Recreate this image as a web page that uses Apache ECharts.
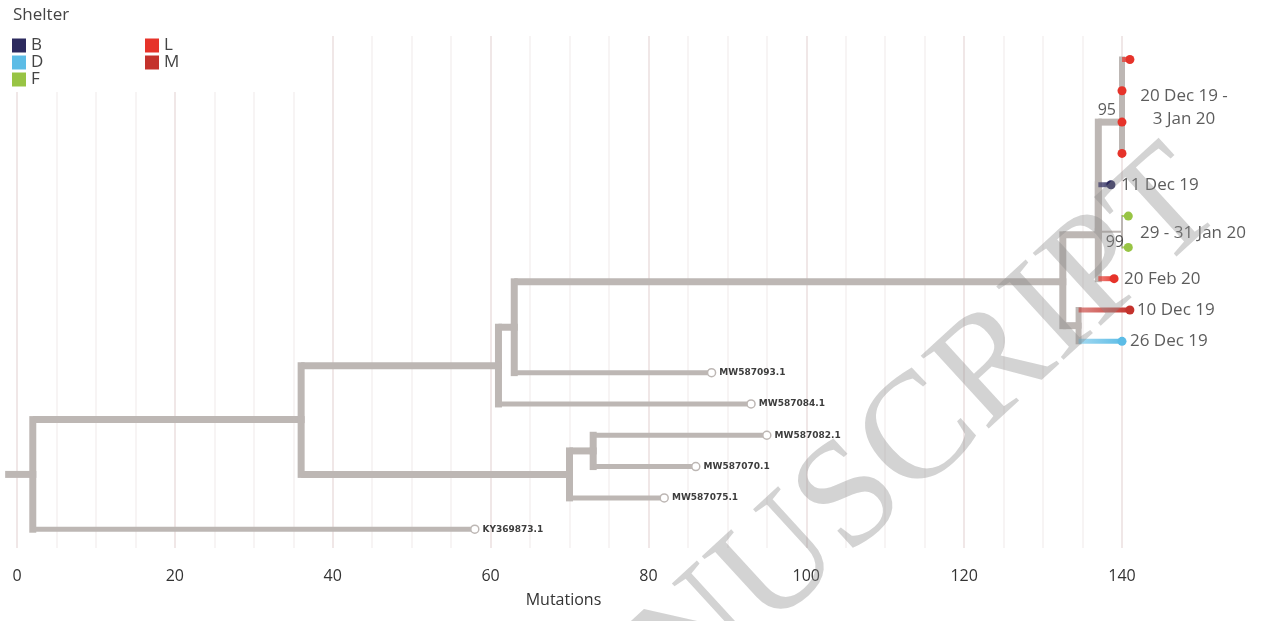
<!DOCTYPE html>
<html>
<head>
<meta charset="utf-8">
<script src="https://cdn.jsdelivr.net/npm/echarts@6/dist/echarts.min.js"></script>
<style>
  html, body { margin: 0; padding: 0; background: #fff; }
  #chart { width: 1268px; height: 621px; }
</style>
</head>
<body>
<div id="chart"></div>
<script>
// internal nodes: [id, parent, mutations, row]
const innerNodes = [
  ['root', null, -1.5, 13.25],
  ['A', 'root', 2, 13.25],
  ['B', 'A', 36, 11.5],
  ['C', 'B', 61, 9.78],
  ['D', 'C', 63, 8.55],
  ['E', 'B', 70, 13.25],
  ['F', 'E', 73, 12.5],
  ['G', 'D', 132.5, 7.1],
  ['H', 'G', 137, 5.6],
  ['I', 'G', 134.5, 8.5],
  ['J', 'H', 140, 2],
  ['K', 'H', 140, 5.5]
];
// reference sequences: [id, parent, mutations, row]
const referenceTips = [
  ['MW587093.1', 'D', 88, 10],
  ['MW587084.1', 'C', 93, 11],
  ['MW587082.1', 'F', 95, 12],
  ['MW587070.1', 'F', 86, 13],
  ['MW587075.1', 'E', 82, 14],
  ['KY369873.1', 'A', 58, 15]
];
// shelter samples: [id, parent, mutations, row, shelter]
const shelterTips = [
  ['L0', 'J', 141, 0, 'L'],
  ['L1', 'J', 140, 1, 'L'],
  ['L2', 'J', 140, 2, 'L'],
  ['L3', 'J', 140, 3, 'L'],
  ['B1', 'H', 138.6, 4, 'B'],
  ['F1', 'K', 140.8, 5, 'F'],
  ['F2', 'K', 140.8, 6, 'F'],
  ['L4', 'H', 139, 7, 'L'],
  ['M1', 'I', 141, 8, 'M'],
  ['D1', 'I', 140, 9, 'D']
];
const shelters = ['B', 'D', 'F', 'L', 'M'];
const dateLabels = [
  ['J', '20 Dec 19 -\n3 Jan 20'],
  ['B1', '11 Dec 19'],
  ['K', '29 - 31 Jan 20'],
  ['L4', '20 Feb 20'],
  ['M1', '10 Dec 19'],
  ['D1', '26 Dec 19']
];
const supportLabels = [['J', '95'], ['K', '99']];
const xTicks = [0, 20, 40, 60, 80, 100, 120, 140];

const shelterColors = { B: '#2c2a5e', D: '#5cbce6', F: '#98c444', L: '#e6332a', M: '#c4322c' };
const gray = '#bdb7b4';
const font = '"Open Sans", sans-serif';

// lookup of every node
const nodes = {};
innerNodes.forEach(n => { nodes[n[0]] = { x: n[2], row: n[3], parent: n[1], inner: true }; });
referenceTips.forEach(n => { nodes[n[0]] = { x: n[2], row: n[3], parent: n[1] }; });
shelterTips.forEach(n => { nodes[n[0]] = { x: n[2], row: n[3], parent: n[1], shelter: n[4] }; });

// edges (elbow from parent to child)
const edges = [];
Object.keys(nodes).forEach(id => {
  const n = nodes[id];
  if (!n.parent) return;
  const p = nodes[n.parent];
  let vw = 7, hw = n.inner ? 7 : 5;
  if (n.parent === 'K') { vw = 2; hw = 2; }
  if (id === 'K') hw = 2;
  if (n.parent === 'J' || n.parent === 'I') vw = 6;
  edges.push({ value: [p.x, p.row, n.x, n.row], vw: vw, hw: hw, shelter: n.shelter });
});

function fade(hex, a) {
  const r = parseInt(hex.slice(1, 3), 16), g = parseInt(hex.slice(3, 5), 16), b = parseInt(hex.slice(5, 7), 16);
  return 'rgba(' + r + ',' + g + ',' + b + ',' + a + ')';
}

const labelPlace = {
  J: { position: [62, -14], align: 'center' },
  B1: { position: [10, 0], align: 'left' },
  K: { position: [18, 1], align: 'left' },
  L4: { position: [10, 0], align: 'left' },
  M1: { position: [7, 0], align: 'left' },
  D1: { position: [8, 0], align: 'left' }
};
const supportPlace = {
  J: { position: [-6, -12], align: 'right' },
  K: { position: [2, 11], align: 'right' }
};

const chart = echarts.init(document.getElementById('chart'));

const series = [
  {
    type: 'custom',
    clip: false,
    z: 2,
    silent: true,
    data: edges.map(e => e.value),
    renderItem: function (params, api) {
      const e = edges[params.dataIndex];
      const p = api.coord([api.value(0), api.value(1)]);
      const c = api.coord([api.value(2), api.value(3)]);
      let hStroke = gray;
      if (e.shelter && c[0] - p[0] > 1) {
        const col = shelterColors[e.shelter];
        hStroke = new echarts.graphic.LinearGradient(0, 0, 1, 0, [
          { offset: 0, color: fade(col, 0.55) },
          { offset: 1, color: col }
        ]);
      }
      if (e.shelter === 'F') hStroke = fade(shelterColors.F, 0.8);
      return {
        type: 'group',
        children: [
          { type: 'line', shape: { x1: p[0], y1: p[1], x2: p[0], y2: c[1] },
            style: { stroke: gray, lineWidth: e.vw, lineCap: 'square' } },
          { type: 'line', shape: { x1: p[0], y1: c[1], x2: c[0], y2: c[1] },
            style: { stroke: hStroke, lineWidth: e.hw } }
        ]
      };
    }
  },
  {
    type: 'scatter',
    clip: false,
    z: 3,
    symbolSize: 8,
    itemStyle: { color: '#fff', borderColor: gray, borderWidth: 1.5, opacity: 1 },
    label: {
      show: true, position: 'right', distance: 3,
      formatter: p => p.name,
      fontSize: 9, fontWeight: 'bold', color: '#3d3d3d', fontFamily: '"DejaVu Sans", sans-serif'
    },
    data: referenceTips.map(t => ({ name: t[0], value: [t[2], t[3]] }))
  }
];

shelters.forEach(s => {
  series.push({
    name: s,
    type: 'scatter',
    clip: false,
    z: 4,
    symbolSize: 9,
    itemStyle: { color: shelterColors[s], opacity: 1 },
    data: shelterTips.filter(t => t[4] === s).map(t => [t[2], t[3]])
  });
});

// date and support annotations anchored on nodes
series.push({
  type: 'scatter',
  clip: false,
  z: 5,
  silent: true,
  symbolSize: 0,
  data: dateLabels.map(d => ({
    value: [nodes[d[0]].x, nodes[d[0]].row],
    label: {
      show: true, formatter: d[1],
      position: labelPlace[d[0]].position, align: labelPlace[d[0]].align, verticalAlign: 'middle',
      fontSize: 17, lineHeight: 23, color: '#333', fontFamily: font
    }
  })).concat(supportLabels.map(d => ({
    value: [nodes[d[0]].x, nodes[d[0]].row],
    label: {
      show: true, formatter: d[1],
      position: supportPlace[d[0]].position, align: supportPlace[d[0]].align, verticalAlign: 'middle',
      fontSize: 16, color: '#333', fontFamily: font
    }
  })))
});

chart.setOption({
  backgroundColor: '#fff',
  animation: false,
  title: {
    text: 'Shelter', left: 8, top: 2,
    textStyle: { fontSize: 17, fontWeight: 'normal', color: '#444', fontFamily: font }
  },
  legend: {
    data: shelters,
    orient: 'vertical',
    left: 10, top: 35, height: 62,
    icon: 'rect', itemWidth: 14, itemHeight: 14, itemGap: 0,
    backgroundColor: '#fff',
    padding: [2, 50, 4, 2],
    itemStyle: { opacity: 1 },
    textStyle: { fontSize: 17, lineHeight: 17, height: 17, color: '#444', width: 114, fontFamily: font }
  },
  grid: { left: 17, right: 146, top: 36, bottom: 73 },
  xAxis: {
    type: 'value', min: 0, max: 140, interval: 5,
    name: 'Mutations', nameLocation: 'middle', nameGap: 44,
    nameTextStyle: { fontSize: 16, color: '#333', fontFamily: font, padding: [0, 12, 0, 0] },
    axisLine: { show: false }, axisTick: { show: false },
    axisLabel: {
      margin: 20, fontSize: 16, color: '#333', fontFamily: font,
      formatter: v => (xTicks.indexOf(v) >= 0 ? String(v) : '')
    },
    splitLine: { show: true, lineStyle: { color: ['#ebdfdf', '#f4f0f0', '#f4f0f0', '#f4f0f0'], width: 1.5 } }
  },
  yAxis: {
    type: 'value', inverse: true, min: -0.75, max: 15.6, show: false
  },
  graphic: [{
    type: 'text',
    x: 1252, y: 236,
    rotation: 42.5 * Math.PI / 180,
    z: 10,
    silent: true,
    style: {
      text: 'MANUSCRIPT',
      font: '152px "Liberation Serif", serif',
      textAlign: 'right', textVerticalAlign: 'bottom',
      fill: 'rgba(140,140,140,0.38)'
    }
  }],
  series: series
});
</script>
</body>
</html>
